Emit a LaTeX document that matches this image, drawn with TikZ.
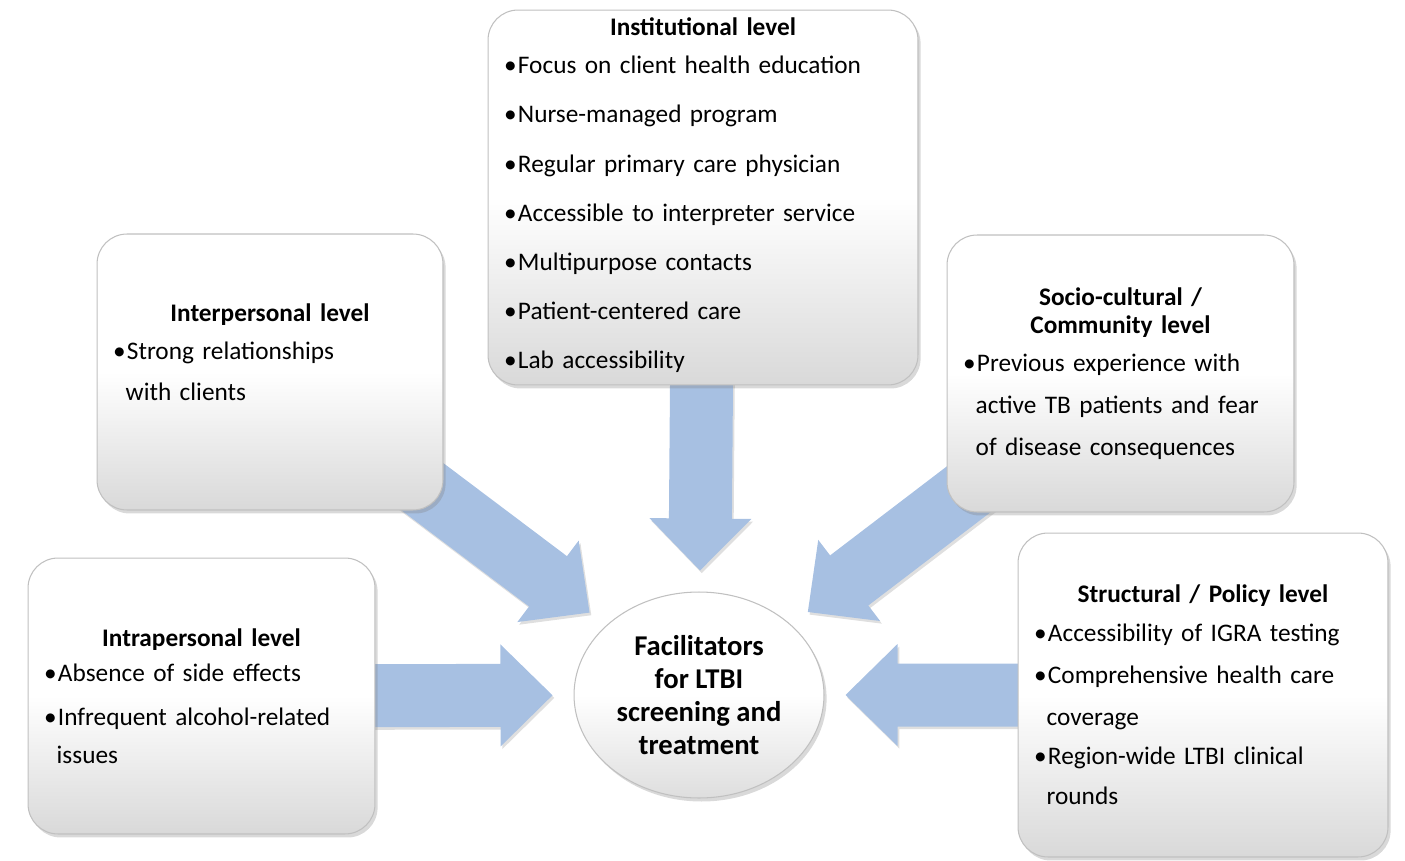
\documentclass[tikz,border=0pt]{standalone}
\usepackage{fontspec}
\setmainfont{Carlito}
\usetikzlibrary{shapes.geometric,calc,shadows,backgrounds,positioning}
\setlength{\parindent}{0pt}
\definecolor{arrowblue}{RGB}{167,192,226}
\definecolor{boxline}{RGB}{192,192,192}

% bullet, continuation indent and centred box title
\newcommand{\itm}{\makebox[0.55em][l]{\textbullet}}
\newcommand{\cnt}{\hspace*{0.5em}}
\newcommand{\ttl}[1]{\makebox[\linewidth][c]{\bfseries #1}}

% block arrow from a box towards the hub
\newcommand{\flowarrow}[2]{%
  \path (#1) -- (#2) coordinate[pos=1] (fe);
  \coordinate (ft) at ($(fe)!0.42cm!(#1)$);
  \coordinate (fh) at ($(ft)!1.04cm!(#1)$);
  \fill[flow] ($(#1)!0.63cm!90:(ft)$) -- ($(fh)!0.63cm!90:(ft)$)
    -- ($(fh)!1.02cm!90:(ft)$) -- (ft) -- ($(fh)!1.02cm!-90:(ft)$)
    -- ($(fh)!0.63cm!-90:(ft)$) -- ($(#1)!0.63cm!-90:(ft)$) -- cycle;
}

\begin{document}
\begin{tikzpicture}[
    x = 0.02cm, y = -0.02cm,
    level/.style = {rectangle, rounded corners=0.6cm, draw=boxline, line width=0.6pt,
      top color=white, bottom color=black!15, middle color=white,
      drop shadow={shadow xshift=1.5pt, shadow yshift=-2pt, opacity=0.3},
      inner xsep=0.32cm, inner ysep=0pt, align=left,
      font=\fontsize{14.4}{16}\selectfont},
    hub/.style = {ellipse, draw=boxline, line width=0.6pt, minimum width=5cm, minimum height=4.12cm,
      inner sep=0pt, top color=white, bottom color=black!13, middle color=white,
      drop shadow={shadow xshift=1.5pt, shadow yshift=-2pt, opacity=0.3},
      align=center, font=\fontsize{16.3}{18.8}\selectfont\bfseries},
    flow/.style = {fill=arrowblue, drop shadow={shadow xshift=1pt, shadow yshift=-1.5pt, opacity=0.25}}
]
    \useasboundingbox (0,0) rectangle (1405,861);

    % Institutional level
    \node[level, minimum width=8.6cm, minimum height=7.5cm, text width=7.96cm] (inst) at (703,197.5) {%
      \ttl{Institutional level}\\[5.5pt]
      \itm Focus on client health education\\[12pt]
      \itm Nurse-managed program\\[12pt]
      \itm Regular primary care physician\\[12pt]
      \itm Accessible to interpreter service\\[12pt]
      \itm Multipurpose contacts\\[12pt]
      \itm Patient-centered care\\[12pt]
      \itm Lab accessibility\\[-0.4cm]\mbox{}};

    % Interpersonal level
    \node[level, minimum width=6.92cm, minimum height=5.52cm, text width=6.28cm] (inter) at (270,372) {%
      \ttl{Interpersonal level}\\[6pt]
      \itm Strong relationships\\[7pt]
      \cnt with clients\\[0.24cm]\mbox{}};

    % Socio-cultural / community level
    \node[level, minimum width=6.94cm, minimum height=5.54cm, text width=6.3cm] (socio) at (1120.5,373.5) {%
      \ttl{Socio-cultural /}\\
      \ttl{Community level}\\[5.5pt]
      \itm Previous experience with\\[8pt]
      \cnt active TB patients and fear\\[8pt]
      \cnt of disease consequences};

    % Intrapersonal level
    \node[level, minimum width=6.94cm, minimum height=5.52cm, text width=6.3cm] (intra) at (201.5,696) {%
      \ttl{Intrapersonal level}\\[4pt]
      \itm Absence of side effects\\[9pt]
      \itm Infrequent alcohol-related\\[5.5pt]
      \cnt issues};

    % Structural / policy level
    \node[level, minimum width=7.4cm, minimum height=6.48cm, text width=6.76cm] (struct) at (1203,695) {%
      \ttl{Structural / Policy level}\\[6pt]
      \itm Accessibility of IGRA testing\\[8pt]
      \itm Comprehensive health care\\[8pt]
      \cnt coverage\\[6pt]
      \itm Region-wide LTBI clinical\\[7pt]
      \cnt rounds};

    % Hub
    \node[hub] (cent) at (699,695) {Facilitators\\for LTBI\\screening and\\treatment};

    % Arrows
    \begin{scope}[on background layer]
      \flowarrow{inst}{cent}
      \flowarrow{inter}{cent}
      \flowarrow{socio}{cent}
      \flowarrow{intra}{cent}
      \flowarrow{struct}{cent}
    \end{scope}
\end{tikzpicture}
\end{document}
